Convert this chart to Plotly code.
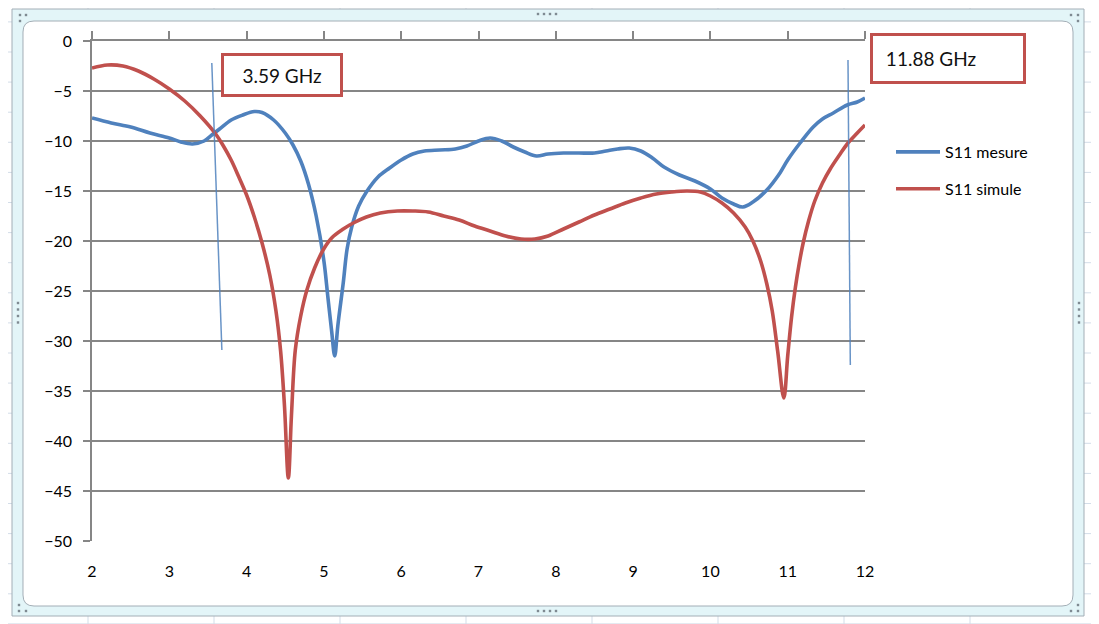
import plotly.graph_objects as go

# ---------------- data ----------------
freq_mesure = [2.0, 2.25, 2.5, 2.75, 3.0, 3.15, 3.3, 3.45, 3.55, 3.65, 3.8, 3.95, 4.1, 4.2,
               4.35, 4.5, 4.6, 4.7, 4.8, 4.9, 5.0, 5.05, 5.1, 5.14, 5.18, 5.25, 5.3, 5.36,
               5.45, 5.55, 5.7, 5.85, 6.0, 6.15, 6.3, 6.5, 6.7, 6.85, 7.0, 7.15, 7.3, 7.45,
               7.6, 7.75, 7.9, 8.1, 8.3, 8.5, 8.65, 8.8, 8.95, 9.1, 9.25, 9.4, 9.6, 9.8,
               10.0, 10.15, 10.3, 10.42, 10.55, 10.73, 10.9, 11.0, 11.16, 11.33, 11.45,
               11.59, 11.77, 11.9, 12.0]
s11_mesure = [-7.7, -8.2, -8.6, -9.2, -9.7, -10.1, -10.3, -10.0, -9.4, -8.8, -7.9, -7.4, -7.05, -7.15,
              -7.9, -9.2, -10.4, -12.0, -14.3, -17.5, -22.0, -25.5, -29.0, -31.5, -28.5, -24.2, -20.8, -18.6,
              -16.5, -15.1, -13.6, -12.7, -11.9, -11.3, -11.0, -10.9, -10.8, -10.5, -10.0, -9.7, -10.0, -10.6,
              -11.1, -11.5, -11.3, -11.2, -11.2, -11.2, -11.0, -10.8, -10.7, -11.0, -11.7, -12.6, -13.4, -14.0,
              -14.8, -15.7, -16.3, -16.6, -16.1, -14.9, -13.2, -11.9, -10.2, -8.6, -7.8,
              -7.2, -6.4, -6.1, -5.7]

freq_simule = [2.0, 2.2, 2.4, 2.6, 2.8, 3.0, 3.2, 3.4, 3.6, 3.7, 3.8, 3.9, 4.0, 4.1, 4.2,
               4.3, 4.38, 4.44, 4.49, 4.54, 4.58, 4.63, 4.7, 4.78, 4.88, 4.99, 5.1, 5.25, 5.38,
               5.55, 5.73, 5.95, 6.15, 6.35, 6.55, 6.75, 6.95, 7.15, 7.35, 7.55, 7.73, 7.9, 8.1,
               8.3, 8.5, 8.7, 8.9, 9.1, 9.3, 9.5, 9.7, 9.87, 10.0, 10.15, 10.3, 10.45, 10.55,
               10.65, 10.73, 10.8, 10.87, 10.95, 11.0, 11.05, 11.1, 11.15, 11.2, 11.27, 11.35,
               11.45, 11.55, 11.67, 11.77, 11.9, 12.0]
s11_simule = [-2.7, -2.4, -2.5, -3.0, -3.8, -4.8, -6.0, -7.5, -9.3, -10.5, -11.9, -13.6, -15.4, -17.6, -20.2,
              -23.4, -27.0, -31.0, -36.5, -43.7, -37.5, -30.9, -27.5, -24.9, -22.7, -20.9, -19.7, -18.8, -18.2,
              -17.6, -17.2, -17.0, -17.0, -17.1, -17.5, -17.9, -18.5, -19.0, -19.5, -19.8, -19.8, -19.5, -18.8,
              -18.1, -17.4, -16.8, -16.2, -15.7, -15.3, -15.1, -15.0, -15.1, -15.5, -16.2, -17.2, -18.6, -20.0,
              -22.0, -24.3, -27.0, -31.0, -35.7, -31.5, -27.6, -24.6, -22.2, -20.2, -18.0, -16.0,
              -14.2, -12.8, -11.4, -10.3, -9.2, -8.4]

marker_low_f = [3.55, 3.68]
marker_low_db = [-2.2, -30.9]
marker_high_f = [11.78, 11.81]
marker_high_db = [-1.9, -32.4]

x_ticks = list(range(2, 13))
y_ticks = list(range(-50, 1, 5))

label_low = "3.59 GHz"
label_high = "\u00a011.88 GHz"
series_names = ["S11 mesure", "S11 simule"]

BLUE = "#4F81BD"
RED = "#C0504D"
GRID = "#868686"
FONT = "Lato"

# plot-area geometry in page pixels (page body has an 8px margin)
OFF = 8
L, R, T, B = 92, 865, 41, 541
W, H = 1099, 624


def px(x):
    return (x - L) / (R - L)


def py(y):
    return (B - y) / (B - T)


fig = go.Figure()

fig.add_trace(go.Scatter(x=freq_mesure, y=s11_mesure, mode="lines", name=series_names[0],
                         legendgroup="a", line=dict(color=BLUE, width=3.6, shape="spline", smoothing=1.0)))
fig.add_trace(go.Scatter(x=freq_simule, y=s11_simule, mode="lines", name=series_names[1],
                         legendgroup="b", line=dict(color=RED, width=3.6, shape="spline", smoothing=1.0)))
fig.add_trace(go.Scatter(x=marker_low_f, y=marker_low_db, mode="lines", xaxis="x2", showlegend=False,
                         hoverinfo="skip", line=dict(color="rgba(79,129,189,0.85)", width=1.5)))
fig.add_trace(go.Scatter(x=marker_high_f, y=marker_high_db, mode="lines", xaxis="x2", showlegend=False,
                         hoverinfo="skip", line=dict(color="rgba(79,129,189,0.85)", width=1.5)))

shapes = []
# spreadsheet cell grid behind the chart
for k in range(9):
    x = 88 + 126 * k
    shapes.append(dict(type="line", xref="paper", yref="paper", x0=px(x), x1=px(x), y0=py(0), y1=py(W),
                       line=dict(color="#d3dde8", width=1), layer="below"))
for k in range(-1, 20):
    y = 52 + 30.1 * k
    shapes.append(dict(type="line", xref="paper", yref="paper", x0=px(0), x1=px(W), y0=py(y), y1=py(y),
                       line=dict(color="#d3dde8", width=1), layer="below"))
# chart frame (outer band)
shapes.append(dict(type="rect", xref="paper", yref="paper", x0=px(12), x1=px(1084), y0=py(9), y1=py(616),
                   fillcolor="#e3f5f8", line=dict(color="#a3aeb6", width=1), layer="below"))
# inner white rounded area
r = 11
x0, x1, y0, y1 = 23, 1073, 21, 606


def P(x, y):
    return f"{px(x):.6f},{py(y):.6f}"


path = (f"M {P(x0 + r, y0)} L {P(x1 - r, y0)} Q {P(x1, y0)} {P(x1, y0 + r)} "
        f"L {P(x1, y1 - r)} Q {P(x1, y1)} {P(x1 - r, y1)} L {P(x0 + r, y1)} "
        f"Q {P(x0, y1)} {P(x0, y1 - r)} L {P(x0, y0 + r)} Q {P(x0, y0)} {P(x0 + r, y0)} Z")
shapes.append(dict(type="path", xref="paper", yref="paper", path=path, fillcolor="white",
                   line=dict(color="#a3aeb6", width=1), layer="below"))
# resize handle dots
dots = []
dots += [(538 + 6 * i, 14) for i in range(4)]
dots += [(538 + 6 * i, 611) for i in range(4)]
dots += [(18, 303 + 6.5 * i) for i in range(4)]
dots += [(1079, 303 + 6.5 * i) for i in range(4)]
dots += [(20, 15), (26, 15), (20, 21)]
dots += [(1071, 15), (1078, 15), (1078, 21)]
dots += [(1078, 605), (1071, 611), (1078, 611)]
dots += [(19, 605), (19, 611), (26, 611)]
for (dx, dy) in dots:
    shapes.append(dict(type="rect", xref="paper", yref="paper", x0=px(dx - 1.2), x1=px(dx + 1.2),
                       y0=py(dy - 1.2), y1=py(dy + 1.2), fillcolor="#7f8a92", line=dict(width=0),
                       layer="below"))

annotations = [
    dict(xref="paper", yref="paper", x=px(281.5), y=py(75.5), text=label_low, showarrow=False,
         font=dict(family=FONT, size=19, color="#111"), bgcolor="white", bordercolor=RED,
         borderwidth=3, borderpad=8, width=100, height=22, align="center",
         xanchor="center", yanchor="middle"),
    dict(xref="paper", yref="paper", x=px(947.5), y=py(58), text=label_high, showarrow=False,
         font=dict(family=FONT, size=19, color="#111"), bgcolor="white", bordercolor=RED,
         borderwidth=3, borderpad=8, width=134, height=29, align="left",
         xanchor="center", yanchor="middle"),
]

fig.update_layout(
    width=W - OFF, height=H - OFF, autosize=False,
    margin=dict(l=L - OFF, r=W - R, t=T - OFF, b=H - B, pad=0),
    paper_bgcolor="white", plot_bgcolor="rgba(0,0,0,0)",
    font=dict(family=FONT, size=16, color="#000"),
    showlegend=True,
    legend=dict(x=px(891), y=py(170.5), xanchor="left", yanchor="middle", traceorder="grouped",
                tracegroupgap=13, itemwidth=44, bgcolor="rgba(0,0,0,0)",
                font=dict(family=FONT, size=16, color="#000")),
    xaxis=dict(range=[2, 12], tickvals=x_ticks, ticks="", showline=False, showgrid=False,
               zeroline=False, side="bottom", anchor="y", ticklabelstandoff=19,
               tickfont=dict(family=FONT, size=16, color="#000")),
    xaxis2=dict(range=[2, 12], tickvals=x_ticks, overlaying="x", side="top", anchor="y",
                ticks="outside", ticklen=8, tickwidth=1.5, tickcolor=GRID, showline=True,
                linecolor=GRID, linewidth=1.5, showticklabels=False, showgrid=False, zeroline=False),
    yaxis=dict(range=[-50, 0], tickvals=y_ticks, ticks="outside", ticklen=7, tickwidth=1.5,
               tickcolor=GRID, showline=True, linecolor=GRID, linewidth=1.5, showgrid=True,
               gridcolor=GRID, gridwidth=1.6, zeroline=False, ticklabelstandoff=8,
               tickfont=dict(family=FONT, size=16, color="#000")),
    shapes=shapes,
    annotations=annotations,
)

fig.write_html("out.html")
